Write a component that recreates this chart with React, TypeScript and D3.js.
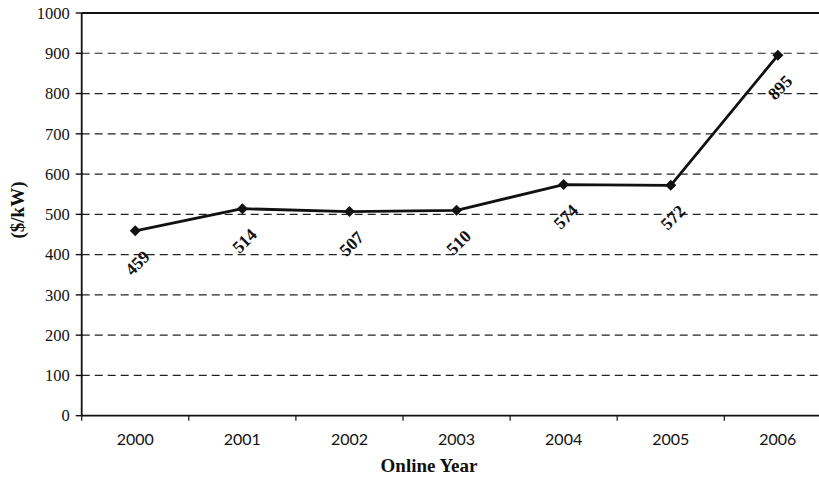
import React from "react";
import * as d3 from "d3";

const years = ["2000", "2001", "2002", "2003", "2004", "2005", "2006"];
const costs = [459, 514, 507, 510, 574, 572, 895];
const yTicks = [0, 100, 200, 300, 400, 500, 600, 700, 800, 900, 1000];

const W = 819;
const H = 478;
const left = 81.7;
const bandW = 107.1;
const top = 13;
const bottom = 415.7;

export default function App() {
  const x = d3.scaleBand<string>().domain(years).range([left, left + bandW * years.length]);
  const y = d3.scaleLinear().domain([0, 1000]).range([bottom, top]);
  const cx = (d: string) => (x(d) as number) + x.bandwidth() / 2;
  const line = d3.line<number>().x((_, i) => cx(years[i])).y((d) => y(d));
  const serif = "'Liberation Serif', 'Times New Roman', serif";
  const sans = "Lato, 'Open Sans', sans-serif";
  return (
    <svg width={W} height={H} style={{ position: "absolute", left: 0, top: 0, background: "#fff" }}>
      <rect width={W} height={H} fill="#fff" />
      {yTicks.filter((t) => t > 0 && t < 1000).map((t) => (
        <line key={"g" + t} x1={left} x2={W} y1={y(t)} y2={y(t)} stroke="#222" strokeWidth={1.2} strokeDasharray="8,5" />
      ))}
      <line x1={left} x2={W} y1={y(1000)} y2={y(1000)} stroke="#111" strokeWidth={1.8} />
      <line x1={left} x2={W} y1={y(0)} y2={y(0)} stroke="#111" strokeWidth={1.8} />
      <line x1={left} x2={left} y1={y(1000)} y2={y(0)} stroke="#111" strokeWidth={1.8} />
      {yTicks.map((t) => (
        <g key={"t" + t}>
          <line x1={left - 6} x2={left + 1} y1={y(t)} y2={y(t)} stroke="#111" strokeWidth={1.4} />
          <text x={left - 12} y={y(t)} dy="0.35em" textAnchor="end" fontFamily={serif} fontSize={16.5} fill="#111">
            {t}
          </text>
        </g>
      ))}
      {years.map((yr) => (
        <g key={"x" + yr}>
          <line x1={x(yr) as number} x2={x(yr) as number} y1={bottom} y2={bottom + 5} stroke="#111" strokeWidth={1.2} />
          <text x={cx(yr)} y={445} textAnchor="middle" fontFamily={sans} fontSize={16} fill="#111">
            {yr}
          </text>
        </g>
      ))}
      <path d={line(costs) || ""} fill="none" stroke="#111" strokeWidth={2.8} strokeLinejoin="round" />
      {costs.map((v, i) => {
        const px = cx(years[i]);
        const py = y(v);
        return (
          <g key={"p" + i}>
            <path d={`M${px},${py - 5.5}L${px + 5.5},${py}L${px},${py + 5.5}L${px - 5.5},${py}Z`} fill="#111" />
            <text
              transform={`translate(${px + 2},${py + 32}) rotate(-45)`}
              textAnchor="middle"
              dy="0.35em"
              fontFamily={serif}
              fontWeight="bold"
              fontSize={17.5}
              fill="#111"
            >
              {v}
            </text>
          </g>
        );
      })}
      <text x={429} y={472} textAnchor="middle" fontFamily={serif} fontWeight="bold" fontSize={19} fill="#111">
        Online Year
      </text>
      <text transform={`translate(17,210) rotate(-90)`} textAnchor="middle" dy="0.35em" fontFamily={serif} fontWeight="bold" fontSize={19} fill="#111">
        ($/kW)
      </text>
    </svg>
  );
}
